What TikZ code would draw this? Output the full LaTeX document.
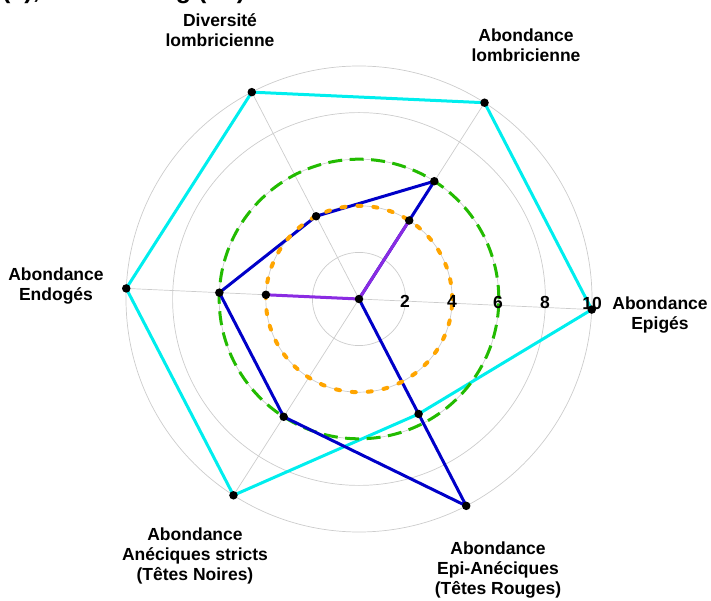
\documentclass[tikz,border=0pt]{standalone}
\usepackage{fontspec}
\setmainfont{Liberation Sans}
\begin{document}
\begin{tikzpicture}[x=1pt,y=1pt,
  gridline/.style={draw=black!20, line width=0.7pt},
  cyanline/.style={draw={rgb,255:red,0;green,238;blue,238}, line width=3pt, line join=round},
  blueline/.style={draw={rgb,255:red,0;green,0;blue,200}, line width=3pt, line join=round},
  purpleline/.style={draw={rgb,255:red,138;green,43;blue,226}, line width=3pt, line join=round},
  greencirc/.style={draw={rgb,255:red,34;green,187;blue,0}, line width=3pt, dash pattern=on 14pt off 7.5pt},
  orangecirc/.style={draw={rgb,255:red,255;green,165;blue,0}, line width=4pt, line cap=round, dash pattern=on 4pt off 12pt},
  dot/.style={circle, fill=black, inner sep=0pt, minimum size=8.5pt},
  lab/.style={font=\bfseries\fontsize{17.5}{20}\selectfont, align=center, text=black},
  ticklab/.style={font=\bfseries\fontsize{17.5}{20}\selectfont, text=black, inner sep=0pt}
]
\useasboundingbox (0,0) rectangle (711,600);
% title fragment cut by the top edge
\node[anchor=base west, inner sep=0pt, font=\bfseries\fontsize{25}{28}\selectfont] (title) at (2,601) {(a), Labour long (LL)};
\coordinate (C) at (359,301);
% grid
\foreach \r in {2,4,6,8,10} \draw[gridline] (C) circle ({\r*23.3});
\foreach \a [count=\i] in {-2.6,57.4,117.4,177.4,237.4,297.4}
  \draw[gridline] (C) -- ++(\a:233) coordinate (ax\i);
% data coordinates
\path (C) ++(-2.6:233) coordinate (c1);
\path (C) ++(57.4:233) coordinate (c2);
\path (C) ++(117.4:233) coordinate (c3);
\path (C) ++(177.4:233) coordinate (c4);
\path (C) ++(237.4:233) coordinate (c5);
\path (C) ++(297.4:129.5) coordinate (c6);
\path (C) ++(57.4:139.8) coordinate (b2);
\path (C) ++(117.4:93.2) coordinate (b3);
\path (C) ++(177.4:139.8) coordinate (b4);
\path (C) ++(237.4:139.8) coordinate (b5);
\path (C) ++(297.4:233) coordinate (b6);
\path (C) ++(57.4:93.2) coordinate (p2);
\path (C) ++(177.4:93.2) coordinate (p4);
% series
\draw[cyanline] (c1) -- (c2) -- (c3) -- (c4) -- (c5) -- (c6) -- cycle;
\draw[greencirc] (C) circle (139.8);
\draw[blueline] (C) -- (b2) -- (b3) -- (b4) -- (b5) -- (b6) -- cycle;
\draw[purpleline] (C) -- (p2) -- (C) -- (p4) -- cycle;
\draw[orangecirc] (C) circle (93.2);
% dots
\foreach \p in {C,c1,c2,c3,c4,c5,c6,b2,b3,b4,b5,b6,p2,p4}
  \node[dot] (d\p) at (\p) {};
% tick labels
\node[ticklab] (t2) at (405,299) {2};
\node[ticklab] (t4) at (452,298.5) {4};
\node[ticklab] (t6) at (498,298) {6};
\node[ticklab] (t8) at (545,297.5) {8};
\node[ticklab] (t10) at (592,297) {10};
% axis labels
\node[lab] (l1) at (660,285) {Abondance\\Epigés};
\node[lab] (l2) at (526,555) {Abondance\\lombricienne};
\node[lab] (l3) at (220,570) {Diversité\\lombricienne};
\node[lab] (l4) at (56,314) {Abondance\\Endogés};
\node[lab] (l5) at (195,44) {Abondance\\Anéciques stricts\\(Têtes Noires)};
\node[lab] (l6) at (498,30) {Abondance\\Epi-Anéciques\\(Têtes Rouges)};
\end{tikzpicture}
\end{document}
